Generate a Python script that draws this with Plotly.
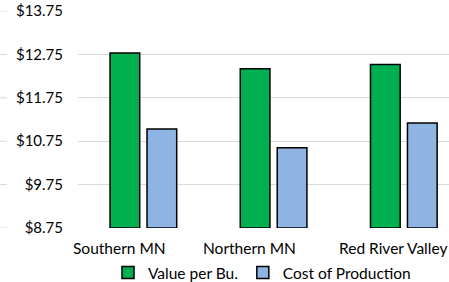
import plotly.graph_objects as go

categories = ["Southern MN", "Northern MN", "Red River Valley"]
value_per_bu = [12.78, 12.42, 12.52]
cost_of_production = [11.03, 10.60, 11.17]
tick_vals = [8.75, 9.75, 10.75, 11.75, 12.75, 13.75]
tick_text = ["$8.75", "$9.75", "$10.75", "$11.75", "$12.75", "$13.75"]
AXIS_MIN = 8.75

FONT = "Lato"
W, H = 449, 282
ML, MT, MB = 78, 11, 54
plot_w = W - ML
plot_h = H - MT - MB

fig = go.Figure()
for name, vals, color, off in [("Value per Bu.", value_per_bu, "#00B050", -0.074),
                               ("Cost of Production", cost_of_production, "#8EB4E3", 0.21)]:
    fig.add_trace(go.Bar(
        x=categories, y=[v - AXIS_MIN for v in vals], base=AXIS_MIN, name=name,
        customdata=vals, hovertemplate="%{x}: $%{customdata:.2f}<extra></extra>",
        marker=dict(color=color, line=dict(color="#000000", width=1.5)),
        width=0.228, offset=off,
    ))

# short gridline stubs at the left edge (as in the reference)
for tv in tick_vals:
    fig.add_shape(type="line", xref="paper", yref="y",
                  x0=-ML / plot_w, x1=-(ML - 7) / plot_w, y0=tv, y1=tv,
                  line=dict(color="#D9D9D9", width=1), layer="below")

# category labels (last one kept inside the picture)
for i, c in enumerate(categories):
    last = i == len(categories) - 1
    fig.add_annotation(
        x=1.0 if last else c, xref="paper" if last else "x",
        xanchor="right" if last else "center",
        y=-(248 - (H - MB)) / plot_h, yref="paper", yanchor="middle",
        text=c, showarrow=False, font=dict(family=FONT, size=15.5, color="#000000"),
    )

fig.update_layout(
    width=W, height=H,
    margin=dict(l=ML, r=0, t=MT, b=MB),
    plot_bgcolor="white", paper_bgcolor="white",
    barmode="overlay",
    font=dict(family=FONT, size=15, color="#000000"),
    showlegend=True,
    legend=dict(orientation="h", xref="container", x=(257 + 5) / W, xanchor="center",
                yref="container", y=(H - 273) / H, yanchor="middle",
                font=dict(family=FONT, size=15.5, color="#000000"),
                itemwidth=30, tracegroupgap=0),
    xaxis=dict(range=[-0.32, 2.529], showgrid=False, showline=False, zeroline=False,
               ticks="", showticklabels=False, automargin=False),
    yaxis=dict(range=[8.75, 13.75], tickvals=tick_vals, ticktext=tick_text,
               showgrid=True, gridcolor="#D9D9D9", gridwidth=1, zeroline=False,
               showline=False, ticks="", ticklabelstandoff=14, automargin=False,
               tickfont=dict(family=FONT, size=15, color="#000000")),
)

fig.write_html("out.html", config={"displayModeBar": False},
               post_script="document.body.style.margin='0px';document.body.style.overflow='hidden';")
